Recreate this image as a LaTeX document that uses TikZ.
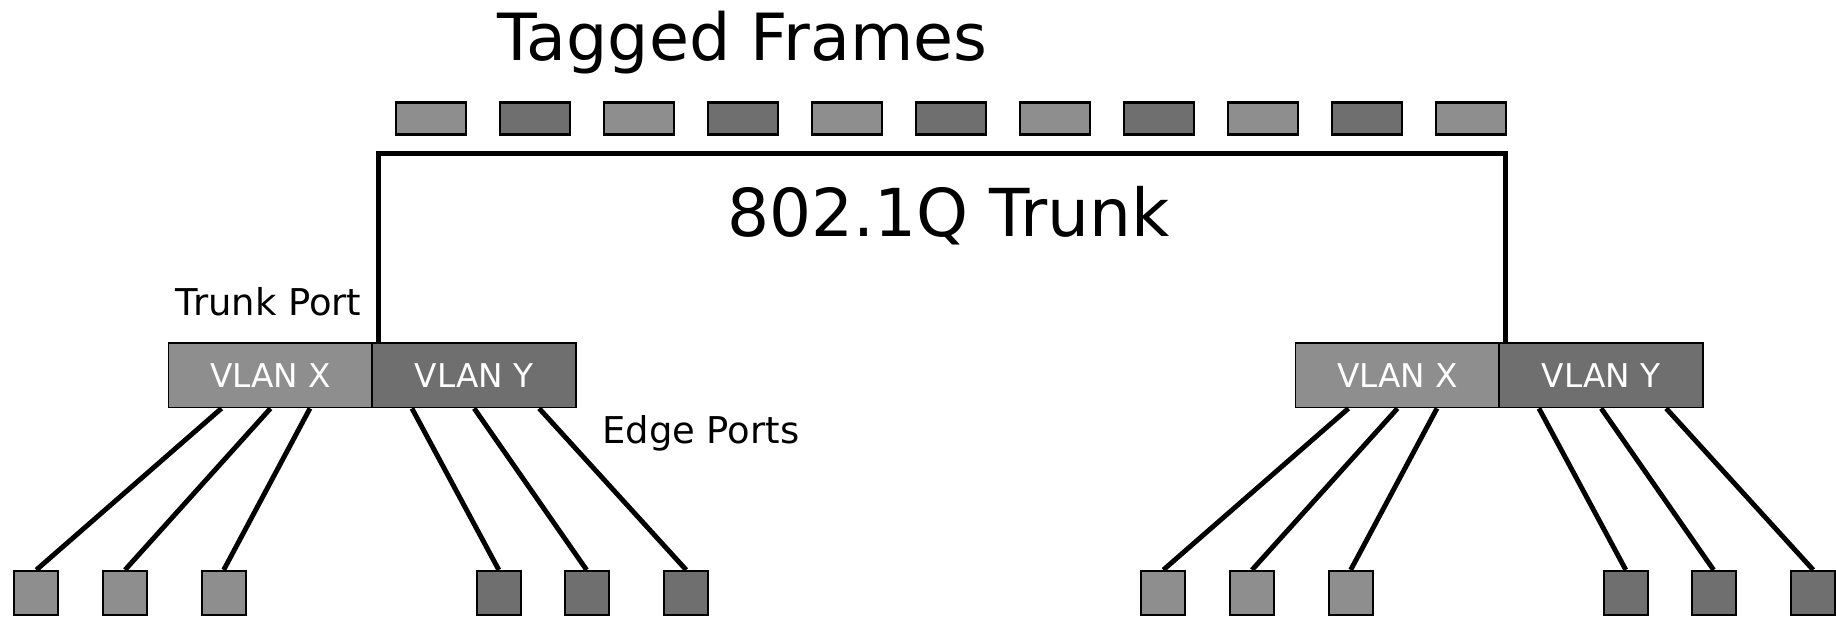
\documentclass[tikz,border=0pt]{standalone}
\usepackage{fontspec}
\setmainfont{DejaVu Sans}
\usepackage{tikz}
\definecolor{lightgr}{HTML}{8E8E8E}
\definecolor{darkgr}{HTML}{6F6F6F}

\begin{document}
\begin{tikzpicture}[x=0.01cm,y=-0.01cm,
  frm/.style={draw,line width=0.6pt,minimum width=0.70cm,minimum height=0.32cm,inner sep=0pt},
  sw/.style={draw,line width=0.5pt,minimum width=2.04cm,minimum height=0.644cm,inner sep=0pt,text=white,font=\fontsize{9.3}{11}\selectfont},
  host/.style={draw,line width=0.6pt,minimum size=0.44cm,inner sep=0pt},
  wire/.style={line width=1.4pt}]
\useasboundingbox (0,0) rectangle (1836,618);
\node[anchor=base,font=\fontsize{18.5}{22}\selectfont] (tf) at (742.5,60.7) {Tagged Frames};
\node[frm,fill=lightgr] (f1) at (430.8,118.5) {};
\node[frm,fill=darkgr] (f2) at (534.8,118.5) {};
\node[frm,fill=lightgr] (f3) at (638.8,118.5) {};
\node[frm,fill=darkgr] (f4) at (742.8,118.5) {};
\node[frm,fill=lightgr] (f5) at (846.8,118.5) {};
\node[frm,fill=darkgr] (f6) at (950.8,118.5) {};
\node[frm,fill=lightgr] (f7) at (1054.8,118.5) {};
\node[frm,fill=darkgr] (f8) at (1158.8,118.5) {};
\node[frm,fill=lightgr] (f9) at (1262.8,118.5) {};
\node[frm,fill=darkgr] (f10) at (1366.8,118.5) {};
\node[frm,fill=lightgr] (f11) at (1470.8,118.5) {};
\node[anchor=base,font=\fontsize{18.8}{22}\selectfont] (tr) at (948.3,236.7) {802.1Q Trunk};
\begin{scope}[shift={(0,0)}]
\node[sw,fill=lightgr] (x1) at (270.5,375.3) {VLAN X};
\node[sw,fill=darkgr] (y1) at (474.2,375.3) {VLAN Y};
\node[host,fill=lightgr] (h1) at (36.3,593) {};
\node[host,fill=lightgr] (h2) at (125,593) {};
\node[host,fill=lightgr] (h3) at (223.7,593) {};
\node[host,fill=darkgr] (h4) at (498.8,593) {};
\node[host,fill=darkgr] (h5) at (586.6,593) {};
\node[host,fill=darkgr] (h6) at (686.2,593) {};
\draw[wire] (x1.-146) -- (h1.north);
\draw[wire] (x1.-90) -- (h2.north);
\draw[wire] (x1.-40) -- (h3.north);
\draw[wire] (y1.-152) -- (h4.north);
\draw[wire] (y1.-90) -- (h5.north);
\draw[wire] (y1.-27) -- (h6.north);
\node[anchor=base,font=\fontsize{10.5}{13}\selectfont] (tp) at (268.7,315) {Trunk Port};
\node[anchor=base,font=\fontsize{10.5}{13}\selectfont] (ep) at (700.8,443.3) {Edge Ports};
\end{scope}
\begin{scope}[shift={(1127,0)}]
\node[sw,fill=lightgr] (x2) at (270.5,375.3) {VLAN X};
\node[sw,fill=darkgr] (y2) at (474.2,375.3) {VLAN Y};
\node[host,fill=lightgr] (h7) at (36.3,593) {};
\node[host,fill=lightgr] (h8) at (125,593) {};
\node[host,fill=lightgr] (h9) at (223.7,593) {};
\node[host,fill=darkgr] (h10) at (498.8,593) {};
\node[host,fill=darkgr] (h11) at (586.6,593) {};
\node[host,fill=darkgr] (h12) at (686.2,593) {};
\draw[wire] (x2.-146) -- (h7.north);
\draw[wire] (x2.-90) -- (h8.north);
\draw[wire] (x2.-40) -- (h9.north);
\draw[wire] (y2.-152) -- (h10.north);
\draw[wire] (y2.-90) -- (h11.north);
\draw[wire] (y2.-27) -- (h12.north);
\end{scope}
\draw[wire] (y1.161.5) -- ++(0,-188.5) -| (y2.161.5);
\end{tikzpicture}
\end{document}
